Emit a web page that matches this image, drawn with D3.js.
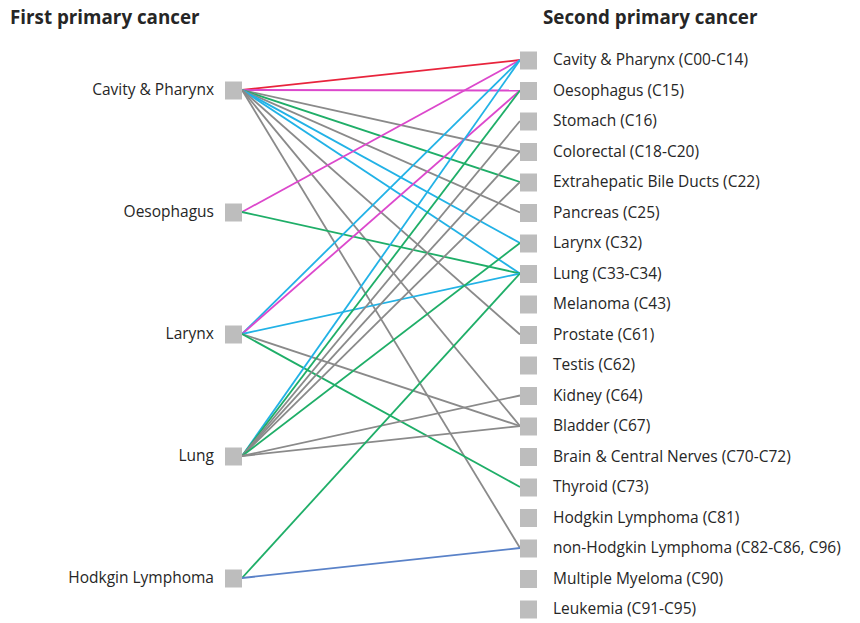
<!doctype html>
<html>
  <head>
    <meta charset="utf-8"/>
    <style>
      body { margin: 0; background: #fff; }
      text { font-family: "Open Sans", sans-serif; fill: #262626; }
    </style>
  </head>
  <body>
    <script src="https://cdn.jsdelivr.net/npm/d3@7/dist/d3.min.js"></script>
    <script>
      const firstCancers = ['Cavity & Pharynx', 'Oesophagus', 'Larynx', 'Lung', 'Hodkgin Lymphoma'];

      const secondCancers = [
        'Cavity & Pharynx (C00-C14)', 'Oesophagus (C15)', 'Stomach (C16)', 'Colorectal (C18-C20)',
        'Extrahepatic Bile Ducts (C22)', 'Pancreas (C25)', 'Larynx (C32)', 'Lung (C33-C34)',
        'Melanoma (C43)', 'Prostate (C61)', 'Testis (C62)', 'Kidney (C64)', 'Bladder (C67)',
        'Brain & Central Nerves (C70-C72)', 'Thyroid (C73)', 'Hodgkin Lymphoma (C81)',
        'non-Hodgkin Lymphoma (C82-C86, C96)', 'Multiple Myeloma (C90)', 'Leukemia (C91-C95)'
      ];

      // [first index, second index, colour group]
      const links = [
        [0, 0, 'red'], [0, 1, 'magenta'], [0, 3, 'grey'], [0, 4, 'green'], [0, 5, 'grey'],
        [0, 6, 'cyan'], [0, 7, 'cyan'], [0, 9, 'grey'], [0, 12, 'grey'], [0, 16, 'grey'],
        [1, 0, 'magenta'], [1, 7, 'green'],
        [2, 0, 'cyan'], [2, 1, 'magenta'], [2, 7, 'cyan'], [2, 12, 'grey'], [2, 14, 'green'],
        [3, 0, 'cyan'], [3, 1, 'green'], [3, 2, 'grey'], [3, 3, 'grey'], [3, 4, 'grey'],
        [3, 6, 'green'], [3, 11, 'grey'], [3, 12, 'grey'],
        [4, 7, 'green'], [4, 16, 'blue']
      ];

      const colours = {
        red: '#e8243c', magenta: '#dc48cc', cyan: '#22b2e6',
        green: '#1fae68', grey: '#8a8a8a', blue: '#5a82c8'
      };

      const width = 860, height = 623;
      const box = 17;

      const svg = d3.select('body').append('svg')
            .attr('width', width)
            .attr('height', height);

      const yLeft = d3.scalePoint().domain(d3.range(firstCancers.length)).range([90, 578]);
      const yRight = d3.scalePoint().domain(d3.range(secondCancers.length)).range([60, 609]);
      const xLeft = 225, xRight = 520;

      svg.append('text')
        .attr('x', 10).attr('y', 24)
        .style('font-weight', 'bold').style('font-size', '18.8px')
        .text('First primary cancer');

      svg.append('text')
        .attr('x', 543).attr('y', 24)
        .style('font-weight', 'bold').style('font-size', '18.8px')
        .text('Second primary cancer');

      svg.append('g')
        .selectAll('line')
        .data(links)
        .join('line')
        .attr('x1', xLeft + box)
        .attr('y1', d => yLeft(d[0]))
        .attr('x2', xRight)
        .attr('y2', d => yRight(d[1]))
        .attr('stroke', d => colours[d[2]])
        .attr('stroke-width', 1.8);

      const left = svg.append('g')
            .selectAll('g')
            .data(firstCancers)
            .join('g')
            .attr('transform', (d, i) => 'translate(0,' + yLeft(i) + ')');

      left.append('rect')
        .attr('x', xLeft).attr('y', -box / 2)
        .attr('width', box).attr('height', box + 1)
        .attr('fill', '#bdbdbd');

      left.append('text')
        .attr('x', 214).attr('dy', '0.35em')
        .attr('text-anchor', 'end')
        .style('font-size', '15.5px')
        .text(d => d);

      const right = svg.append('g')
            .selectAll('g')
            .data(secondCancers)
            .join('g')
            .attr('transform', (d, i) => 'translate(0,' + yRight(i) + ')');

      right.append('rect')
        .attr('x', xRight).attr('y', -box / 2)
        .attr('width', box).attr('height', box + 1)
        .attr('fill', '#bdbdbd');

      right.append('text')
        .attr('x', 553).attr('dy', '0.35em')
        .style('font-size', '15.5px')
        .text(d => d);
    </script>
  </body>
</html>
